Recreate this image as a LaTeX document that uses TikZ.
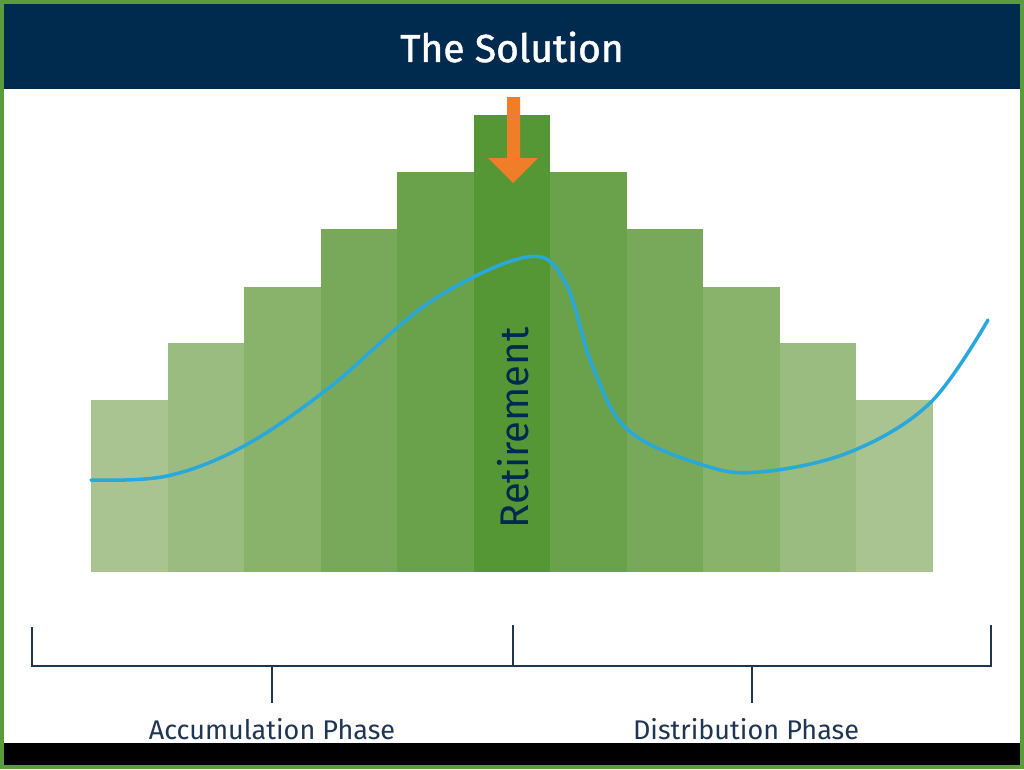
\documentclass[tikz,border=0pt]{standalone}
\usepackage{fontspec}
\setmainfont{Fira Sans}
\newfontfamily\titlefont[FakeBold=1.3]{Fira Sans}
\definecolor{frame}{RGB}{90,155,60}
\definecolor{navy}{RGB}{0,42,78}
\definecolor{ink}{RGB}{31,53,83}
\definecolor{arrow}{RGB}{240,125,40}
\definecolor{curve}{RGB}{41,168,220}
\definecolor{colA}{RGB}{169,196,145}
\definecolor{colB}{RGB}{155,188,128}
\definecolor{colC}{RGB}{137,178,106}
\definecolor{colD}{RGB}{120,169,90}
\definecolor{colE}{RGB}{106,161,75}
\definecolor{colF}{RGB}{85,151,52}
\tikzset{
  phase/.style={text=ink,font=\fontsize{27}{30}\selectfont},
  bracket/.style={draw=ink,line width=2.5pt}
}
\begin{document}
\begin{tikzpicture}[x=1pt,y=-1pt]
\useasboundingbox (0,0) rectangle (1024,769);
% frame, header and footer bar
\fill[frame] (0,0) rectangle (1024,769);
\fill[white] (4,4) rectangle (1020,765);
\fill[navy] (4,4) rectangle (1020,89);
\fill[black] (4,743) rectangle (1020,765);
\node[text=white,font=\titlefont\fontsize{39}{42}\selectfont] (title) at (512,47) {The Solution};
% columns
\foreach \i/\top/\col in {0/400/colA,1/343/colB,2/287/colC,3/229/colD,4/172/colE,
    5/115/colF,6/172/colE,7/229/colD,8/287/colC,9/343/colB,10/400/colA}
  \fill[\col] ({91+76.5*\i},\top) rectangle ({167.5+76.5*\i},572);
% arrow
\fill[arrow] (507,97) -- (520,97) -- (520,158) -- (538,158) -- (513,183)
  -- (488,158) -- (507,158) -- cycle;
% curve
\draw[curve,line width=3.5pt,line cap=round] plot[smooth,tension=0.6] coordinates {
  (91,480) (167,476) (244,446) (330,387) (430,302) (527,257)
  (565,282) (592,365) (628,430) (703,465)
  (760,472) (850,452) (930,403) (988,320)};
\node[rotate=90,text=navy,font=\fontsize{40}{44}\selectfont] (retire) at (513,428) {Retirement};
% bracket
\coordinate (lt) at (32,627);
\coordinate (lb) at (32,666);
\coordinate (rt) at (991,625);
\coordinate (rb) at (991,666);
\coordinate (mt) at (513,625);
\coordinate (mb) at (513,666);
\coordinate (at) at (272,666);
\coordinate (ab) at (272,703);
\coordinate (dt) at (752,666);
\coordinate (db) at (752,703);
\draw[bracket] (lt) -- (lb) -- (rb) -- (rt);
\draw[bracket] (mt) -- (mb);
\draw[bracket] (at) -- (ab);
\draw[bracket] (dt) -- (db);
\node[phase] (acc) at (272,729) {Accumulation Phase};
\node[phase] (dist) at (746,729) {Distribution Phase};
\end{tikzpicture}
\end{document}
